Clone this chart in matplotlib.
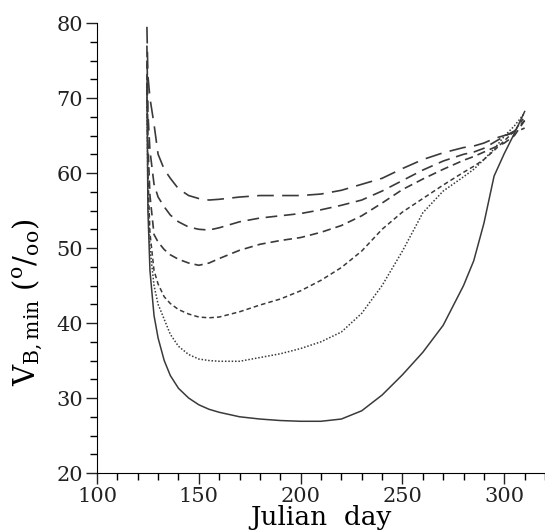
import matplotlib.pyplot as plt
from matplotlib.ticker import MultipleLocator

plt.rcParams['font.family'] = 'DejaVu Serif'
plt.rcParams['mathtext.fontset'] = 'dejavuserif'

# Julian days shared by all curves
days = [124.5, 125, 126, 128, 130, 133, 136, 140, 145, 150, 155, 160, 170, 180,
        190, 200, 210, 220, 230, 240, 250, 260, 270, 280, 285, 290, 295, 300, 305, 310]

v_solid = [72, 55, 47, 41, 38, 35, 33, 31.3, 30, 29.1, 28.5, 28.1, 27.5, 27.2,
           27.0, 26.9, 26.9, 27.2, 28.3, 30.4, 33.1, 36.1, 39.7, 45.0, 48.3, 53.3, 59.6, 62.6, 65.3, 68.2]
v_dot = [72, 57, 50, 45, 42.5, 40.5, 38.5, 36.9, 35.8, 35.2, 35.0, 34.9, 34.9, 35.4,
         35.9, 36.6, 37.5, 38.8, 41.3, 45.0, 49.6, 54.7, 57.6, 59.5, 60.5, 61.8, 63.2, 64.9, 66.3, 68.0]
v_short = [73, 60, 52, 47, 45.2, 43.5, 42.6, 41.8, 41.2, 40.8, 40.7, 40.8, 41.5, 42.4,
           43.2, 44.3, 45.7, 47.4, 49.6, 52.5, 54.8, 56.6, 58.4, 60.1, 60.9, 61.8, 63.0, 64.3, 65.6, 67.5]
v_dash = [75, 64, 57, 51.8, 50.8, 49.8, 49.1, 48.5, 48.0, 47.7, 48.0, 48.6, 49.7, 50.5,
          51.0, 51.4, 52.1, 53.0, 54.3, 56.0, 57.8, 59.2, 60.5, 61.7, 62.2, 62.8, 63.4, 64.0, 65.0, 67.0]
v_long = [77, 68, 63, 58.5, 56.8, 55.5, 54.4, 53.5, 52.8, 52.5, 52.4, 52.7, 53.5, 54.0,
          54.3, 54.6, 55.1, 55.7, 56.4, 57.6, 59.0, 60.4, 61.6, 62.5, 62.8, 63.3, 64.1, 64.9, 65.6, 67.0]
v_longest = [79.5, 73, 70, 66.5, 62.5, 60.5, 59.3, 57.9, 57.0, 56.6, 56.4, 56.5, 56.8, 57.0,
             57.0, 57.0, 57.2, 57.7, 58.5, 59.3, 60.6, 61.8, 62.7, 63.4, 63.6, 64.0, 64.6, 65.0, 65.4, 66.0]

fig = plt.figure(figsize=(5.45, 5.30), dpi=100)
ax = fig.add_axes([0.178, 0.1075, 0.822, 0.849])

col = '#3a3a3a'
ax.plot(days, v_solid, color=col, lw=1.1, ls='-')
ax.plot(days, v_dot, color=col, lw=1.1, ls=(0, (1, 1.2)))
ax.plot(days, v_short, color=col, lw=1.1, ls=(0, (3, 2)))
ax.plot(days, v_dash, color=col, lw=1.2, ls=(0, (5, 3)))
ax.plot(days, v_long, color=col, lw=1.2, ls=(0, (7, 4)))
ax.plot(days, v_longest, color=col, lw=1.2, ls=(0, (10, 5)))

ax.set_xlim(100, 320)
ax.set_ylim(20, 80)
ax.spines['top'].set_visible(False)
ax.spines['right'].set_visible(False)
ax.xaxis.set_major_locator(MultipleLocator(50))
ax.xaxis.set_minor_locator(MultipleLocator(10))
ax.yaxis.set_major_locator(MultipleLocator(10))
ax.yaxis.set_minor_locator(MultipleLocator(2.5))
ax.tick_params(which='major', direction='out', length=8, width=1, labelsize=15, colors='#222', pad=2)
ax.tick_params(which='minor', direction='out', length=5, width=1)
ax.set_xticks([100, 150, 200, 250, 300])

ax.set_xlabel('Julian  day', fontsize=19, labelpad=-1)
ax.set_ylabel(r'V$_{\rm B,min}$ $($$^{\rm o}$/$_{\rm oo}$$)$', fontsize=21)
ax.yaxis.set_label_coords(-0.115, 0.38)

fig.savefig('out.png', dpi=100)
